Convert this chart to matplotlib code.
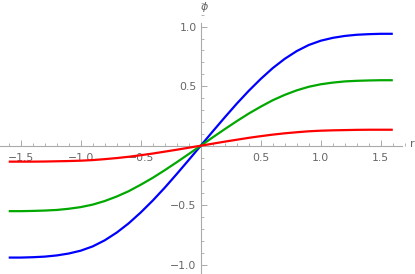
import matplotlib
matplotlib.use('Agg')
import numpy as np
import matplotlib.pyplot as plt
from matplotlib.ticker import MultipleLocator, FixedLocator

# r grid and curve values
r = [-1.6, -1.5, -1.4, -1.3, -1.2, -1.1, -1.0, -0.9, -0.8, -0.7, -0.6,
     -0.5, -0.4, -0.3, -0.2, -0.1, 0.0, 0.1, 0.2, 0.3, 0.4, 0.5,
     0.6, 0.7, 0.8, 0.9, 1.0, 1.1, 1.2, 1.3, 1.4, 1.5, 1.6]
phi_blue = [-0.94, -0.94, -0.937, -0.932, -0.922, -0.906, -0.882, -0.846, -0.795, -0.730, -0.652,
            -0.561, -0.461, -0.353, -0.238, -0.120, 0.0, 0.120, 0.238, 0.353, 0.461, 0.561,
            0.652, 0.730, 0.795, 0.846, 0.882, 0.906, 0.922, 0.932, 0.937, 0.94, 0.94]
phi_green = [-0.55, -0.55, -0.548, -0.545, -0.540, -0.530, -0.516, -0.495, -0.465, -0.427, -0.382,
             -0.328, -0.270, -0.206, -0.139, -0.070, 0.0, 0.070, 0.139, 0.206, 0.270, 0.328,
             0.382, 0.427, 0.465, 0.495, 0.516, 0.530, 0.540, 0.545, 0.548, 0.55, 0.55]
phi_red = [-0.134, -0.134, -0.134, -0.133, -0.131, -0.129, -0.126, -0.121, -0.113, -0.104, -0.093,
           -0.080, -0.066, -0.050, -0.034, -0.017, 0.0, 0.017, 0.034, 0.050, 0.066, 0.080,
           0.093, 0.104, 0.113, 0.121, 0.126, 0.129, 0.131, 0.133, 0.134, 0.134, 0.134]

x_major = [-1.5, -1.0, -0.5, 0.5, 1.0, 1.5]
y_major = [-1.0, -0.5, 0.5, 1.0]

axis_col = '#aaaaaa'
text_col = '#666666'

fig = plt.figure(figsize=(4.15, 2.74), dpi=100)
ax = fig.add_axes([0, 0, 1, 1])
ax.set_xlim(-1.6725, 1.785)
ax.set_ylim(-1.078, 1.224)

ax.plot(r, phi_blue, color='#0000ff', lw=1.6, zorder=3, solid_capstyle='butt')
ax.plot(r, phi_green, color='#00a800', lw=1.6, zorder=3, solid_capstyle='butt')
ax.plot(r, phi_red, color='#ff0000', lw=1.6, zorder=3, solid_capstyle='butt')

for s in ['top', 'right']:
    ax.spines[s].set_visible(False)
ax.spines['bottom'].set_position(('data', 0))
ax.spines['left'].set_position(('data', 0))
ax.spines['bottom'].set_bounds(-1.6725, 1.678)
ax.spines['left'].set_bounds(-1.078, 1.034)
for s in ['bottom', 'left']:
    ax.spines[s].set_color(axis_col)
    ax.spines[s].set_linewidth(0.8)

ax.xaxis.set_major_locator(FixedLocator(x_major))
ax.yaxis.set_major_locator(FixedLocator(y_major))
ax.xaxis.set_minor_locator(MultipleLocator(0.1))
ax.yaxis.set_minor_locator(MultipleLocator(0.1))
ax.set_xticklabels([f"{v:.1f}".replace('-', '\u2212') for v in x_major])
ax.set_yticklabels([f"{v:.1f}".replace('-', '\u2212') for v in y_major])
ax.tick_params(which='major', direction='in', length=4, width=0.7, color=axis_col,
               labelcolor=text_col, labelsize=7.8)
ax.tick_params(which='minor', direction='in', length=2.3, width=0.6, color=axis_col)
ax.tick_params(axis='x', which='major', pad=5)
ax.tick_params(axis='y', which='major', pad=3)

ax.text(1.76, 0.01, 'r', color=text_col, fontsize=8, ha='center', va='center')
ax.text(0.03, 1.165, r'$\phi$', color=text_col, fontsize=8, ha='center', va='center')

fig.savefig('out.png', dpi=100)
